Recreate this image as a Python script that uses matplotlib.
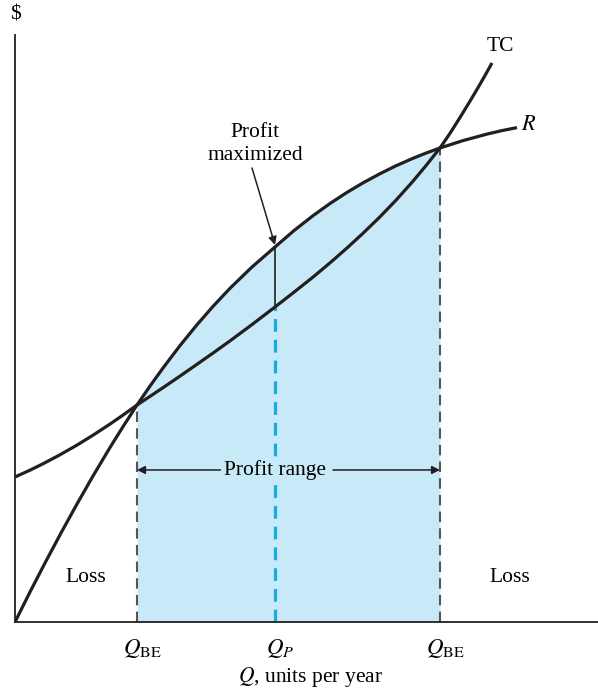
import numpy as np
import matplotlib.pyplot as plt
from matplotlib.transforms import ScaledTranslation

plt.rcParams['font.family'] = ['Liberation Serif', 'DejaVu Serif']
plt.rcParams['mathtext.fontset'] = 'stix'

# revenue curve R (Q, $)
r_q = [0, 15, 30, 46, 62, 78, 95, 108, 122, 135, 148, 165, 182, 198, 215, 237, 260,
       279, 298, 315, 332, 348, 365, 381, 398, 411, 425, 448, 472, 487, 502]
r_v = [0, 30, 59, 89, 118, 146, 174.5, 195.3, 217, 235.9, 254, 276.4, 297.3, 315.6, 333.7, 355, 375,
       391.4, 406.3, 418.5, 429.6, 439.1, 448.3, 456.2, 463.7, 468.9, 474, 481.4, 487.9, 491.4, 494.4]

# total cost curve TC
tc_q = [0, 15, 28, 45, 62, 78, 95, 108, 122, 135, 148, 165, 182, 198, 215, 237, 260,
        279, 298, 315, 332, 348, 365, 381, 398, 411, 425, 435, 445, 454, 462, 470, 477]
tc_v = [145, 151.8, 158.2, 167.2, 176.9, 186.8, 197.9, 206.9, 217, 225.6, 234.3, 245.9, 257.7, 268.9, 281.1, 297.4, 315,
        329.8, 344.9, 359.1, 374, 388.7, 405.2, 421.8, 440.8, 456.4, 474, 488.7, 504.5, 519.2, 532.6, 546.5, 559]

# break-even and profit-max quantities
q_be1, q_p, q_be2 = 122, 260, 425
tick_pos = [q_be1, q_p, q_be2]
tick_labels = [r'$Q_{\mathrm{BE}}$', r'$Q_P$', r'$Q_{\mathrm{BE}}$']

ink = '#231f20'
fs = 15.5

fig = plt.figure(figsize=(5.98, 6.93), dpi=100)
ax = fig.add_axes([0.0251, 0.1025, 0.9749, 0.847])
ax.set_xlim(0, 583)
ax.set_ylim(0, 587)

# shaded profit region under R between break-even points
r_q_arr = np.array(r_q)
r_v_arr = np.array(r_v)
mask = (r_q_arr >= q_be1) & (r_q_arr <= q_be2)
ax.fill_between(r_q_arr[mask], 0, r_v_arr[mask], color='#c8e9f8', lw=0, zorder=1)

# curves
ax.plot(r_q, r_v, color=ink, lw=2.3, zorder=4, solid_capstyle='butt', solid_joinstyle='round')
ax.plot(tc_q, tc_v, color=ink, lw=2.3, zorder=4, solid_capstyle='butt', solid_joinstyle='round')

# break-even verticals
ax.plot([q_be1, q_be1], [0, 217], color='#555555', lw=1.5, ls=(0, (5, 3)), zorder=2)
ax.plot([q_be2, q_be2], [0, 474], color='#555555', lw=1.5, ls=(0, (5, 3)), zorder=2)

# profit max vertical
ax.plot([q_p, q_p], [0, 315], color='#1aa9e0', lw=2.3, ls=(0, (4, 2.5)), zorder=2)
ax.plot([q_p, q_p], [315, 375], color=ink, lw=1.2, zorder=3)

# annotations
ax.text(240, 478, 'Profit\nmaximized', ha='center', va='center', fontsize=fs, linespacing=1.3)
ax.annotate('', xy=(q_p, 377), xytext=(237, 454),
            arrowprops=dict(arrowstyle='-|>', color=ink, lw=1.1,
                            mutation_scale=12, shrinkA=0, shrinkB=0))
ax.text(q_p, 152, 'Profit range', ha='center', va='center', fontsize=fs, zorder=5,
        bbox=dict(boxstyle='square,pad=0.15', fc='#c8e9f8', ec='none'))
ax.annotate('', xy=(q_be1, 152), xytext=(206, 152),
            arrowprops=dict(arrowstyle='-|>', color=ink, lw=1.1,
                            mutation_scale=12, shrinkA=0, shrinkB=0))
ax.annotate('', xy=(q_be2, 152), xytext=(318, 152),
            arrowprops=dict(arrowstyle='-|>', color=ink, lw=1.1,
                            mutation_scale=12, shrinkA=0, shrinkB=0))

ax.text(71, 44, 'Loss', ha='center', va='center', fontsize=fs)
ax.text(495, 44, 'Loss', ha='center', va='center', fontsize=fs)
ax.text(485, 575, 'TC', ha='center', va='center', fontsize=fs)
ax.text(506, 496, '$R$', ha='left', va='center', fontsize=16)

# axes styling
for s in ['top', 'right']:
    ax.spines[s].set_visible(False)
for s in ['left', 'bottom']:
    ax.spines[s].set_linewidth(1.3)
    ax.spines[s].set_color(ink)
ax.set_yticks([])
ax.set_xticks(tick_pos)
ax.set_xticklabels(tick_labels, fontsize=16.5)
ax.tick_params(axis='x', length=0, pad=11)
shift = ScaledTranslation(5 / 100, 0, fig.dpi_scale_trans)
for lbl in ax.get_xticklabels():
    lbl.set_transform(lbl.get_transform() + shift)

fig.text(310 / 598, 1 - 677 / 693, r'$Q$, units per year', ha='center', va='center', fontsize=fs)
fig.text(15 / 598, 1 - 15 / 693, '$', ha='center', va='center', fontsize=fs)

fig.savefig('out.png', dpi=100)
